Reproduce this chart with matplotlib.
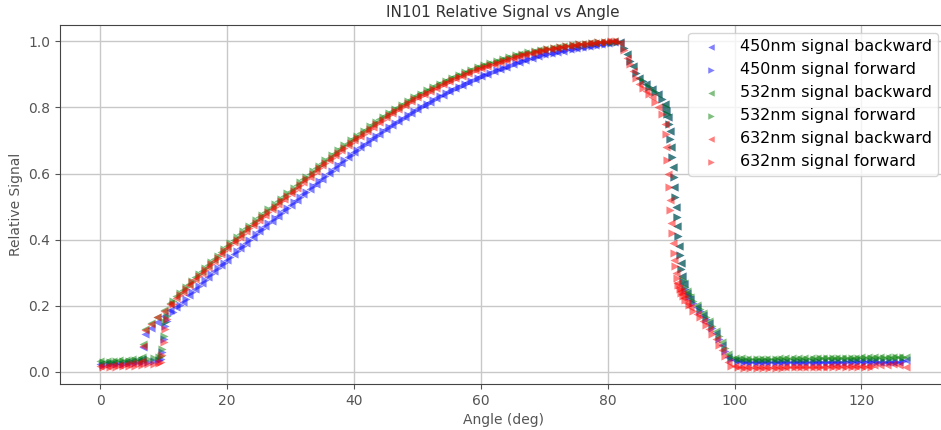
import matplotlib
matplotlib.use("Agg")
import matplotlib.pyplot as plt
import numpy as np

NAN = np.nan

# ---------------- data ----------------
# backward sweeps: sampled on these angles
ANGLE_B_LOW = [0, 1, 2, 3, 4, 5, 6, 6.5, 6.75, 7, 8, 9, 10, 11]
ANGLE_B_MAIN = [12, 13, 14, 15, 16, 17, 18, 19, 20, 21, 22, 23, 24, 25, 26, 27, 28, 29, 30,
                31, 32, 33, 34, 35, 36, 37, 38, 39, 40, 41, 42, 43, 44, 45, 46, 47, 48, 49, 50,
                51, 52, 53, 54, 55, 56, 57, 58, 59, 60, 61, 62, 63, 64, 65, 66, 67, 68, 69, 70,
                71, 72, 73, 74, 75, 76, 77, 78, 79, 80, 81, 82,
                83, 84, 85, 86, 87, 88, 89,
                89.25, 89.5, 89.75, 90, 90.25, 90.5, 90.75, 91, 91.25, 91.5, 91.75,
                92, 92.5, 93, 94, 95, 96, 97, 98, 99]
ANGLE_B_TAIL = [100, 101, 102, 103, 104, 105, 106, 107, 108, 109, 110, 111, 112, 113,
                114, 115, 116, 117, 118, 119, 120, 121, 122, 123, 124, 125, 126, 127]

# forward sweeps: sampled on these angles
ANGLE_F_LOW = [0.5, 1.5, 2.5, 3.5, 4.5, 5.5, 6.5, 7.5, 8.5, 9.25, 9.5, 9.75, 10, 10.25, 10.5, 11.5]
ANGLE_F_MAIN = [12.5, 13.5, 14.5, 15.5, 16.5, 17.5, 18.5, 19.5, 20.5, 21.5, 22.5, 23.5, 24.5,
                25.5, 26.5, 27.5, 28.5, 29.5, 30.5, 31.5, 32.5, 33.5, 34.5, 35.5, 36.5, 37.5,
                38.5, 39.5, 40.5, 41.5, 42.5, 43.5, 44.5, 45.5, 46.5, 47.5, 48.5, 49.5, 50.5,
                51.5, 52.5, 53.5, 54.5, 55.5, 56.5, 57.5, 58.5, 59.5, 60.5, 61.5, 62.5, 63.5,
                64.5, 65.5, 66.5, 67.5, 68.5, 69.5, 70.5, 71.5, 72.5, 73.5, 74.5, 75.5, 76.5,
                77.5, 78.5, 79.5, 80.5, 81.5,
                82.5, 83.5, 84.5, 85.5, 86.5, 87.5, 88.5,
                89.125, 89.375, 89.625, 89.875, 90.125, 90.375, 90.625, 90.875, 91.125,
                91.375, 91.625, 91.875,
                92.25, 92.75, 93.5, 94.5, 95.5, 96.5, 97.5, 98.5, 99.5]
ANGLE_F_TAIL = [100.5, 101.5, 102.5, 103.5, 104.5, 105.5, 106.5, 107.5, 108.5, 109.5, 110.5,
                111.5, 112.5, 113.5, 114.5, 115.5, 116.5, 117.5, 118.5, 119.5, 120.5, 121.5,
                122.5, 123.5, 124.5, 125.5, 126.5]

# ---- 450 nm (blue) ----
B450_LOW = [.025, .026, .027, .028, .030, .032, .034, .038, .075, .115, .132, .150, .168, .186]
B450_MAIN = [.195, .213, .232, .250, .268, .286, .304, .322, .340, .357, .374, .391, .408, .425,
             .441, .457, .473, .489, .505, .521, .537, .553, .569, .585, .601, .617, .633, .649,
             .665, .679, .693, .707, .721, .735, .747, .759, .771, .783, .795, .806, .817, .828,
             .839, .850, .859, .868, .877, .886, .895, .902, .909, .916, .923, .930, .936, .942,
             .948, .954, .960, .964, .968, .972, .976, .980, .983, .986, .989, .992, .995, .998, .998,
             .960, .925, .890, .870, .855, .840, .810,
             .790, .770, .730, .680, .620, .560, .500, .440, .380, .330, .290,
             .265, .240, .222, .197, .172, .148, .118, .082, .045]
B450_TAIL = [.035, .032, .031, .031, .031, .031, .031, .031, .031, .031, .031, .031, .031, .031,
             .031, .031, .031, .031, .032, .032, .032, .032, .032, .030, .030, .030, .031, .035]
F450_LOW = [.022, .023, .024, .025, .026, .027, .029, .031, .033, .035, .038, .060, .100, .140, .155, .180]
F450_MAIN = [.204, .222, .241, .259, .277, .295, .313, .331, .348, .365, .382, .399, .416, .433,
             .449, .465, .481, .497, .513, .529, .545, .561, .577, .593, .609, .625, .641, .657,
             .672, .686, .700, .714, .728, .741, .753, .765, .777, .789, .800, .811, .822, .833,
             .844, .854, .863, .872, .881, .890, .898, .905, .912, .919, .926, .933, .939, .945,
             .951, .957, .962, .966, .970, .974, .978, .981, .984, .987, .990, .993, .996, .998,
             .980, .940, .905, .880, .862, .848, .825,
             .800, .780, .750, .705, .650, .590, .530, .470, .410, .355, .310, .275,
             .252, .231, .210, .185, .160, .133, .100, .063, .038]
F450_TAIL = [.032, .030, .029, .029, .029, .029, .029, .029, .029, .029, .029, .029, .029, .029,
             .029, .029, .029, .030, .030, .030, .030, .030, .030, .030, .030, .031, .032]

# ---- 532 nm (green) ----
B532_LOW = [.032, .033, .034, .035, .036, .038, .040, .044, .085, .130, .147, .166, .187, .210]
B532_MAIN = [.230, .248, .267, .286, .305, .324, .343, .362, .381, .399, .417, .434, .451, .468,
             .484, .500, .516, .532, .548, .565, .582, .599, .616, .633, .648, .663, .678, .693,
             .708, .722, .736, .750, .764, .778, .790, .802, .814, .826, .837, .847, .857, .867,
             .877, .886, .894, .902, .910, .918, .926, .932, .938, .944, .950, .955, .960, .965,
             .969, .973, .977, .980, .983, .986, .988, .990, .992, .994, .996, .998, .999, 1.0, .998,
             .960, .925, .890, .870, .855, .840, .810,
             .790, .770, .730, .680, .620, .560, .500, .440, .380, .330, .290,
             .268, .245, .228, .203, .178, .153, .125, .090, .055]
B532_TAIL = [.042, .041, .040, .040, .040, .040, .040, .041, .041, .041, .041, .042, .042, .042,
             .042, .043, .043, .043, .043, .043, .044, .044, .044, .045, .045, .045, .045, .045]
F532_LOW = [.030, .031, .032, .033, .034, .035, .037, .039, .041, .045, .048, .070, .110, .150, .170, .215]
F532_MAIN = [.239, .257, .276, .295, .314, .333, .352, .371, .390, .408, .425, .442, .459, .476,
             .492, .508, .524, .540, .556, .573, .590, .607, .624, .640, .655, .670, .685, .700,
             .715, .729, .743, .757, .771, .784, .796, .808, .820, .831, .842, .852, .862, .872,
             .881, .890, .898, .906, .914, .922, .929, .935, .941, .947, .952, .957, .962, .967,
             .971, .975, .978, .981, .984, .987, .989, .991, .993, .995, .997, .998, .999, .999,
             .980, .940, .905, .880, .862, .848, .825,
             .800, .780, .750, .705, .650, .590, .530, .470, .410, .355, .310, .278,
             .256, .236, .215, .190, .165, .140, .108, .072, .045]
F532_TAIL = [.040, .039, .038, .038, .038, .039, .039, .039, .039, .040, .040, .040, .040, .041,
             .041, .041, .041, .041, .042, .042, .042, .042, .043, .043, .043, .044, .044]

# ---- 632 nm (red) ----
B632_LOW = [.018, .019, .020, .022, .024, .026, .028, .032, .080, .127, .145, .165, .185, .205]
B632_MAIN = [.225, .243, .262, .280, .299, .318, .337, .356, .375, .392, .409, .426, .443, .460,
             .476, .492, .508, .524, .540, .557, .574, .591, .608, .625, .640, .655, .670, .685,
             .700, .714, .728, .742, .756, .770, .782, .794, .806, .818, .830, .840, .850, .860,
             .870, .880, .888, .896, .904, .912, .920, .926, .932, .938, .944, .950, .955, .960,
             .965, .970, .975, .978, .981, .984, .987, .990, .992, .994, .996, .998, 1.0, 1.0, .995,
             .950, .910, .870, .850, .830, .800, .750,
             .680, .600, .520, .450, .390, .340, .300, .270, .255, .245, .235,
             .225, .210, .195, .175, .155, .130, .100, .065, .030]
B632_TAIL = [.018, .016, .015, .015, .015, .015, .015, .015, .016, .016, .016, .016, .016, .016,
             .016, .017, .017, .017, .017, .017, .018, .018, .020, .022, .022, .024, .022, .015]
F632_LOW = [.014, .015, .016, .017, .018, .019, .021, .023, .025, .028, .030, .050, .090, .130, .160, .205]
F632_MAIN = [.234, .252, .271, .290, .308, .327, .346, .365, .383, .400, .417, .434, .451, .468,
             .484, .500, .516, .532, .548, .565, .582, .599, .616, .632, .647, .662, .677, .692,
             .707, .721, .735, .749, .763, .776, .788, .800, .812, .824, .835, .845, .855, .865,
             .875, .884, .892, .900, .908, .916, .923, .929, .935, .941, .947, .952, .957, .962,
             .967, .972, .976, .979, .982, .985, .988, .991, .993, .995, .997, .999, 1.0, 1.0,
             .975, .930, .890, .860, .840, .815, .780,
             .720, .640, .560, .490, .420, .360, .320, .285, .262, .250, .240, .230,
             .218, .203, .185, .165, .142, .115, .083, .048, .018]
F632_TAIL = [.015, .013, .013, .013, .013, .013, .013, .013, .014, .014, .014, .014, .014, .014,
             .014, .015, .015, .015, .015, .015, .015, .016, NAN, NAN, NAN, NAN, NAN]

SERIES = [
    ("450nm signal backward", "b", "<", "B", B450_LOW, B450_MAIN, B450_TAIL),
    ("450nm signal forward", "b", ">", "F", F450_LOW, F450_MAIN, F450_TAIL),
    ("532nm signal backward", "g", "<", "B", B532_LOW, B532_MAIN, B532_TAIL),
    ("532nm signal forward", "g", ">", "F", F532_LOW, F532_MAIN, F532_TAIL),
    ("632nm signal backward", "r", "<", "B", B632_LOW, B632_MAIN, B632_TAIL),
    ("632nm signal forward", "r", ">", "F", F632_LOW, F632_MAIN, F632_TAIL),
]

# ---------------- plot ----------------
TXT = "#555555"
plt.rcParams.update({
    "font.family": ["DejaVu Sans"],
    "axes.edgecolor": "#444444",
    "xtick.color": TXT, "ytick.color": TXT,
    "axes.labelcolor": TXT,
})

fig = plt.figure(figsize=(9.41, 4.30), dpi=100)
ax = fig.add_axes([0.0638, 0.107, 0.9416, 0.835])

ANGLES = {
    "B": ANGLE_B_LOW + ANGLE_B_MAIN + ANGLE_B_TAIL,
    "F": ANGLE_F_LOW + ANGLE_F_MAIN + ANGLE_F_TAIL,
}
for label, col, mk, direction, low, main, tail in SERIES:
    vals = list(low) + list(main) + list(tail)
    ax.scatter(ANGLES[direction], vals, marker=mk, s=34, c=col, alpha=0.5,
               linewidths=0, label=label)

ax.grid(True, color="#c8c8c8", linewidth=1.0)
ax.set_axisbelow(True)
ax.set_xticks([0, 20, 40, 60, 80, 100, 120])
ax.set_yticks([0.0, 0.2, 0.4, 0.6, 0.8, 1.0])
ax.tick_params(labelsize=10)
ax.set_xlabel("Angle (deg)", fontsize=10)
ax.set_ylabel("Relative Signal", fontsize=10)
ax.set_title("IN101 Relative Signal vs Angle", fontsize=11, color="#333333")
ax.margins(x=0.05, y=0.05)

leg = ax.legend(loc="upper right", fontsize=11.5, frameon=True, markerscale=0.8)
leg.get_frame().set_edgecolor("#cccccc")

fig.savefig("out.png", dpi=100)
